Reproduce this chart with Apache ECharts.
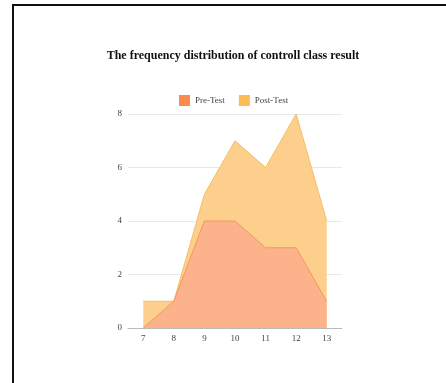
<!DOCTYPE html>
<html>
<head>
<meta charset="utf-8">
<script src="https://cdn.jsdelivr.net/npm/echarts@6/dist/echarts.min.js"></script>
<style>
  html, body { margin: 0; padding: 0; background: #fff; }
  #chart { width: 446px; height: 383px; }
</style>
</head>
<body>
<div id="chart"></div>
<script>
// Score categories on the x axis
const scores = ['7', '8', '9', '10', '11', '12', '13'];
// Number of students at each score
const preTest = [0, 1, 4, 4, 3, 3, 1];
const postTest = [1, 1, 5, 7, 6, 8, 4];
// Value-axis ticks
const yTicks = [0, 2, 4, 6, 8];

const serif = '"Liberation Serif", "DejaVu Serif", serif';

const chart = echarts.init(document.getElementById('chart'), null, { renderer: 'canvas' });
chart.setOption({
  backgroundColor: '#fff',
  animation: false,
  graphic: [{
    type: 'rect',
    shape: { x: 13, y: 5, width: 600, height: 600 },
    style: { fill: 'none', stroke: '#111', lineWidth: 2 }
  }],
  title: {
    text: 'The frequency distribution of controll class result',
    left: 228, top: 45, textAlign: 'center',
    textStyle: { fontFamily: serif, fontWeight: 'bold', fontSize: 12, color: '#111' }
  },
  legend: {
    data: ['Pre-Test', 'Post-Test'],
    left: 174, top: 90,
    itemWidth: 11, itemHeight: 11, itemGap: 14,
    icon: 'rect',
    textStyle: { fontFamily: serif, fontSize: 9, color: '#444' }
  },
  grid: { left: 128, right: 104, top: 114, bottom: 55 },
  xAxis: {
    type: 'category',
    data: scores,
    boundaryGap: true,
    axisTick: { show: false },
    axisLine: { lineStyle: { color: '#bbb' } },
    axisLabel: { fontFamily: serif, fontSize: 9, color: '#444', margin: 6 }
  },
  yAxis: {
    type: 'value',
    min: yTicks[0], max: yTicks[yTicks.length - 1], interval: 2,
    axisLine: { show: false },
    axisTick: { show: false },
    splitLine: { lineStyle: { color: '#e8e8e8' } },
    axisLabel: { fontFamily: serif, fontSize: 9, color: '#444', margin: 6 }
  },
  series: [
    {
      name: 'Post-Test',
      type: 'line',
      data: postTest,
      symbol: 'none',
      color: '#fdbb55',
      lineStyle: { color: '#f7bc66', width: 1 },
      areaStyle: { color: '#fcd08c', opacity: 1 },
      z: 2
    },
    {
      name: 'Pre-Test',
      type: 'line',
      data: preTest,
      symbol: 'none',
      color: '#fb8c4c',
      lineStyle: { color: '#f5965e', width: 1 },
      areaStyle: { color: '#fcb38b', opacity: 1 },
      z: 3
    }
  ]
});
</script>
</body>
</html>
